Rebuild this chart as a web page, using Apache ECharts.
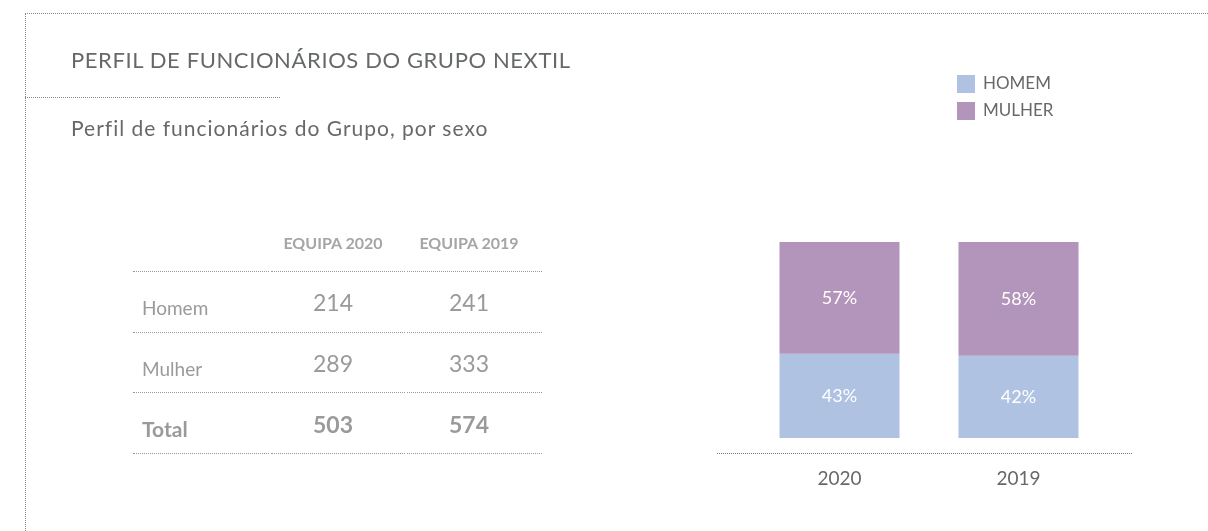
<!DOCTYPE html>
<html>
<head>
<meta charset="utf-8">
<script src="https://cdn.jsdelivr.net/npm/echarts@6/dist/echarts.min.js"></script>
<style>
	html, body { margin: 0; padding: 0; background: #fff; }
	body { width: 1208px; height: 531px; position: relative; overflow: hidden; font-family: Lato, "Noto Sans", sans-serif; }
	#chart { position: absolute; left: 0; top: 0; width: 1208px; height: 531px; }
	.frame-top { position: absolute; left: 25px; top: 13px; width: 1183px; border-top: 1px dotted #888; }
	.frame-left { position: absolute; left: 25px; top: 13px; height: 518px; border-left: 1px dotted #888; }
	.sep { position: absolute; left: 25px; top: 97px; width: 255px; border-top: 1px dotted #888; }
	.title { position: absolute; left: 71px; top: 46px; font-size: 22px; letter-spacing: 0.6px; color: #666a66; white-space: nowrap; }
	.subtitle { position: absolute; left: 71px; top: 115px; font-size: 21px; letter-spacing: 1px; color: #666a66; white-space: nowrap; }
	.tbl { position: absolute; left: 0; top: 0; }
	.tbl div { position: absolute; white-space: nowrap; }
	.hdr { font-size: 16px; font-weight: bold; color: #a5a5a5; transform: translate(-50%, -50%); }
	.rlab { font-size: 19px; color: #9a9a9a; transform: translateY(-50%); }
	.val { font-size: 23px; color: #9a9a9a; transform: translate(-50%, -50%); }
	.bold { font-weight: bold; }
	.rule { border-top: 1px dotted #999; height: 0; }
</style>
</head>
<body>
<div id="chart"></div>
<div class="frame-top"></div>
<div class="frame-left"></div>
<div class="sep"></div>
<div class="title">PERFIL DE FUNCIONÁRIOS DO GRUPO NEXTIL</div>
<div class="subtitle">Perfil de funcionários do Grupo, por sexo</div>
<div class="tbl" id="tbl"></div>
<script>
// table data
const tableHeaders = ['EQUIPA 2020', 'EQUIPA 2019'];
const tableRows = ['Homem', 'Mulher', 'Total'];
const team2020 = [214, 289, 503];
const team2019 = [241, 333, 574];

// chart data
const years = ['2020', '2019'];
const homemPct = [43, 42];
const mulherPct = [57, 58];
const seriesNames = ['HOMEM', 'MULHER'];

// build the table
let tbl = document.getElementById('tbl');
let colX = [333, 469];
let rowY = [302, 363, 424];
let labY = [307, 368, 428];
let ruleY = [271, 332, 392, 453];
let segs = [[133, 269], [271, 405], [407, 542]];

function addDiv(cls, text, x, y) {
	let d = document.createElement('div');
	d.className = cls;
	d.textContent = text;
	d.style.left = x + 'px';
	d.style.top = y + 'px';
	tbl.appendChild(d);
	return d;
}

tableHeaders.forEach((h, i) => addDiv('hdr', h, colX[i], 242));
ruleY.forEach(y => {
	segs.forEach(s => {
		let d = addDiv('rule', '', s[0], y);
		d.style.width = (s[1] - s[0]) + 'px';
	});
});
tableRows.forEach((r, i) => {
	let last = i === tableRows.length - 1;
	let lab = addDiv('rlab' + (last ? ' bold' : ''), r, 142, labY[i]);
	if (last) lab.style.fontSize = '21px';
	addDiv('val' + (last ? ' bold' : ''), team2020[i], colX[0], rowY[i]);
	addDiv('val' + (last ? ' bold' : ''), team2019[i], colX[1], rowY[i]);
});

// bar chart
let myChart = echarts.init(document.getElementById('chart'));
let labelStyle = {
	show: true,
	position: 'inside',
	color: '#fff',
	fontSize: 18,
	fontFamily: 'Lato',
	formatter: p => p.value + '%'
};
let option = {
	animation: false,
	legend: {
		data: seriesNames,
		orient: 'vertical',
		left: 952,
		top: 70,
		itemWidth: 18,
		itemHeight: 18,
		itemGap: 9,
		icon: 'rect',
		textStyle: { fontFamily: 'Lato', fontSize: 17, color: '#666a66', padding: [0, 0, 0, 3] }
	},
	grid: { left: 750, right: 100, top: 242, bottom: 93 },
	xAxis: {
		type: 'category',
		data: years,
		axisLine: { show: false },
		axisTick: { show: false },
		axisLabel: { margin: 31, fontFamily: 'Lato', fontSize: 19, color: '#666a66' }
	},
	yAxis: { type: 'value', min: 0, max: 100, show: false },
	graphic: [{
		type: 'line',
		shape: { x1: 717, y1: 453.5, x2: 1133, y2: 453.5 },
		style: { stroke: '#777', lineWidth: 1, lineDash: [1, 1] },
		silent: true
	}],
	series: [
		{
			name: seriesNames[0],
			type: 'bar',
			stack: 'total',
			barWidth: 120,
			data: homemPct,
			itemStyle: { color: '#b0c2e2' },
			label: labelStyle
		},
		{
			name: seriesNames[1],
			type: 'bar',
			stack: 'total',
			barWidth: 120,
			data: mulherPct,
			itemStyle: { color: '#b394ba' },
			label: labelStyle
		}
	]
};
myChart.setOption(option);
</script>
</body>
</html>
